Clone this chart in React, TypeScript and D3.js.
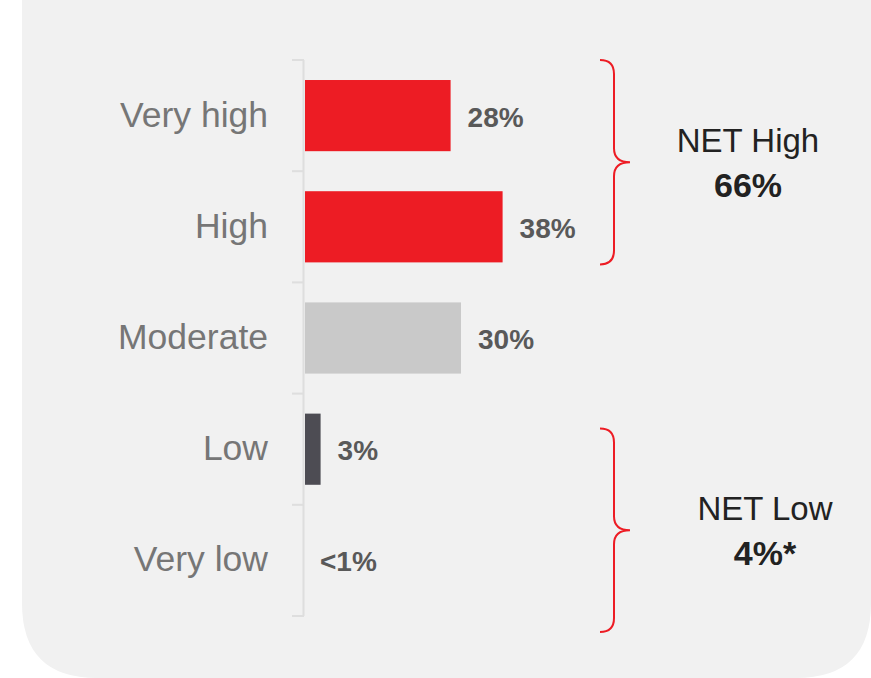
import React from "react";
import * as d3 from "d3";

const categories = ["Very high", "High", "Moderate", "Low", "Very low"];
const values = [28, 38, 30, 3, 0];
const valueLabels = ["28%", "38%", "30%", "3%", "<1%"];
const barColors = ["#ed1c24", "#ed1c24", "#c9c9c9", "#4d4c53", "#4d4c53"];
const groupTitles = ["NET High", "NET Low"];
const groupValues = ["66%", "4%*"];

const W = 871;
const H = 678;

export default function App() {
  const y = d3.scaleBand<string>().domain(categories).range([60, 616]).padding(0);
  const x = d3.scaleLinear().domain([0, 100]).range([305, 825]);
  const bw = y.bandwidth();
  const barH = bw * 0.64;
  const ticks = [...categories.map((c) => y(c) as number), 616];

  const brace = (top: number, bot: number) => {
    const mid = (top + bot) / 2;
    const x0 = 600, x1 = 614, x2 = 630, r = 14;
    return `M${x0},${top} Q${x1},${top} ${x1},${top + r} L${x1},${mid - r} Q${x1},${mid} ${x2},${mid} Q${x1},${mid} ${x1},${mid + r} L${x1},${bot - r} Q${x1},${bot} ${x0},${bot}`;
  };

  const braces = [
    { top: y("Very high") as number, bot: (y("High") as number) + bw - 18, cx: 748 },
    { top: (y("Low") as number) + 35, bot: (y("Very low") as number) + bw + 16, cx: 765 },
  ];

  return (
    <svg width={W} height={H} style={{ position: "absolute", left: 0, top: 0 }}
      fontFamily="'Liberation Sans', Arial, sans-serif">
      <rect x={0} y={0} width={W} height={H} fill="#ffffff" />
      <path
        d={`M22,-40 L871,-40 L871,603 Q871,678 796,678 L97,678 Q22,678 22,603 Z`}
        fill="#f1f1f1"
      />
      <line x1={303.5} x2={303.5} y1={60} y2={616} stroke="#dedede" strokeWidth={2} />
      {ticks.map((t, i) => (
        <line key={i} x1={292} x2={304} y1={t} y2={t} stroke="#dedede" strokeWidth={2} />
      ))}
      {categories.map((c, i) => {
        const cy = (y(c) as number) + bw / 2;
        return (
          <g key={c}>
            <text x={268} y={cy + 11} textAnchor="end" fontSize={35.5} fill="#767676">
              {c}
            </text>
            {values[i] > 0 && (
              <rect x={x(0)} y={cy - barH / 2} width={x(values[i]) - x(0)} height={barH} fill={barColors[i]} />
            )}
            <text x={x(values[i]) + (values[i] > 0 ? 17 : 15)} y={cy + 11} fontSize={28}
              fontWeight="bold" fill="#595959">
              {valueLabels[i]}
            </text>
          </g>
        );
      })}
      {braces.map((b, i) => {
        const mid = (b.top + b.bot) / 2;
        return (
          <g key={groupTitles[i]}>
            <path d={brace(b.top, b.bot)} fill="none" stroke="#ed1c24" strokeWidth={2} />
            <text x={b.cx} y={mid - 22 + 12} textAnchor="middle" fontSize={33} fill="#222">{groupTitles[i]}</text>
            <text x={b.cx} y={mid + 23 + 12} textAnchor="middle" fontSize={34} fontWeight="bold" fill="#222">{groupValues[i]}</text>
          </g>
        );
      })}
    </svg>
  );
}
